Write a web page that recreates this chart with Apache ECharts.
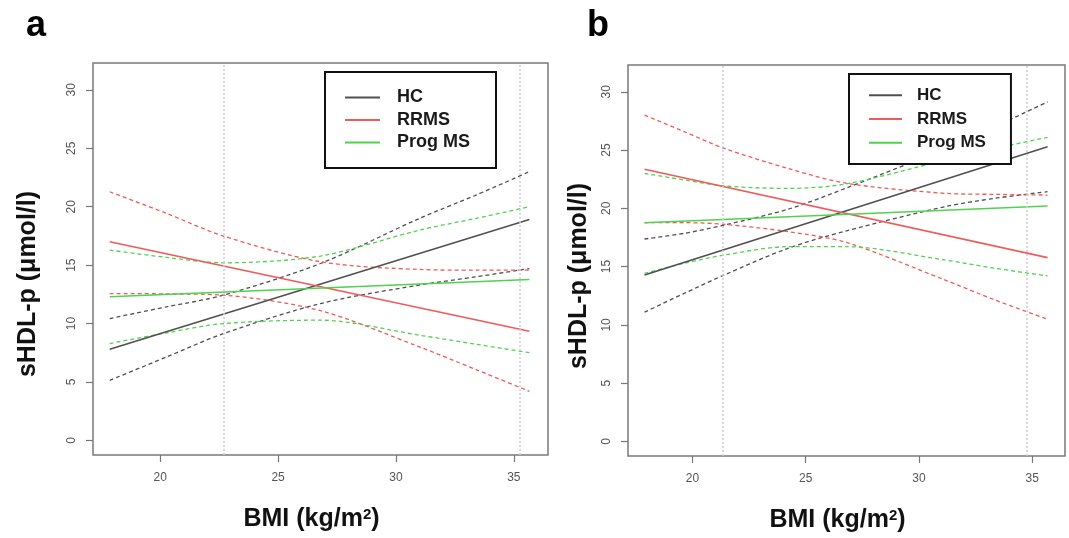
<!DOCTYPE html>
<html>
<head>
<meta charset="utf-8">
<script src="https://cdn.jsdelivr.net/npm/echarts@6/dist/echarts.min.js"></script>
<style>html,body{margin:0;padding:0;background:#fff;}#c{width:1069px;height:538px;}</style>
</head>
<body>
<div id="c"></div>
<script>
// ---------- data ----------
const xTicks = [20, 25, 30, 35];
const yTicks = [0, 5, 10, 15, 20, 25, 30];
const groups = ['HC', 'RRMS', 'Prog MS'];

// Panel a
const aFitX = [17.86, 35.66];
const aHC = [7.8, 18.9];
const aRRMS = [17.0, 9.34];
const aProg = [12.29, 13.77];
const aCiX = [17.86, 20.27, 22.68, 26.8, 31.0, 33.4, 35.66];
const aHCUp = [10.43, 11.43, 12.43, 15.14, 19.0, 21.0, 23.0];
const aHCLo = [5.14, 7.14, 9.14, 11.71, 13.3, 14.0, 14.71];
const aRRMSUp = [21.28, 19.43, 17.49, 15.29, 14.63, 14.57, 14.57];
const aRRMSLo = [12.57, 12.54, 12.43, 11.1, 8.0, 6.06, 4.2];
const aProgUp = [16.29, 15.66, 15.2, 15.78, 18.0, 19.0, 20.0];
const aProgLo = [8.29, 9.2, 10.0, 10.29, 9.0, 8.23, 7.51];
const aVLines = [22.7, 35.25];

// Panel b
const bFitX = [17.88, 35.68];
const bHC = [14.29, 25.29];
const bRRMS = [23.35, 15.77];
const bProg = [18.77, 20.2];
const bCiX = [17.88, 19.65, 21.41, 24.21, 26.8, 31.14, 33.35, 35.68];
const bHCUp = [17.37, 17.86, 18.57, 19.92, 21.75, 25.1, 27.0, 29.14];
const bHCLo = [11.09, 12.72, 14.29, 16.57, 18.07, 20.14, 20.86, 21.43];
const bRRMSUp = [28.0, 26.57, 25.14, 23.43, 22.15, 21.29, 21.2, 21.14];
const bRRMSLo = [18.77, 18.77, 18.63, 18.0, 17.07, 13.86, 12.14, 10.49];
const bProgUp = [23.0, 22.43, 21.92, 21.71, 22.1, 24.14, 25.14, 26.09];
const bProgLo = [14.43, 15.29, 16.0, 16.71, 16.71, 15.57, 14.86, 14.2];
const bVLines = [21.35, 34.78];

// ---------- styles ----------
const COL = {'HC': '#505050', 'RRMS': '#ef5a5a', 'Prog MS': '#4fd34f'};
const FONT = 'Liberation Sans, Arial, Helvetica, sans-serif';

function pairs(xs, ys) { return xs.map((x, i) => [x, ys[i]]); }
function solid(name, xs, ys, gi) {
  return {type: 'line', name: name, xAxisIndex: gi, yAxisIndex: gi, data: pairs(xs, ys),
    symbol: 'none', showSymbol: false, silent: true,
    lineStyle: {color: COL[name], width: 1.6}, itemStyle: {color: COL[name]}, z: 3};
}
function dashed(grp, tag, xs, ys, gi) {
  return {type: 'line', name: grp + ' ' + tag + ' ' + gi, xAxisIndex: gi, yAxisIndex: gi, data: pairs(xs, ys),
    symbol: 'none', showSymbol: false, silent: true, smooth: 0.3,
    lineStyle: {color: COL[grp], width: 1.3, type: [4, 3]}, itemStyle: {color: COL[grp]}, z: 2};
}
function vlineSeries(vals, gi) {
  return {type: 'line', name: 'vl' + gi, xAxisIndex: gi, yAxisIndex: gi, data: [], silent: true,
    markLine: {symbol: 'none', silent: true, label: {show: false},
      lineStyle: {color: '#cdcdd6', type: [2, 2], width: 1.5},
      data: vals.map(v => ({xAxis: v}))}};
}

const grids = [
  {left: 93, top: 63, width: 455, height: 392},
  {left: 628, top: 65, width: 437, height: 391}
];
const yNamePad = [[0, 50, 0, 0], [0, 31, 0, 0]];
const yNameGap = [52, 36];

const xAxes = grids.map((g, i) => ({
  type: 'value', gridIndex: i, min: 17.15, max: 36.45,
  axisLine: {show: false, onZero: false}, splitLine: {show: false},
  axisTick: {show: true, inside: false, length: 7, lineStyle: {color: '#777', width: 1.2}, customValues: xTicks},
  axisLabel: {customValues: xTicks, color: '#555', fontSize: 12, fontFamily: FONT, margin: 17},
  name: 'BMI (kg/m{sup|2})', nameLocation: 'middle', nameGap: 52,
  nameTextStyle: {fontSize: 25, fontWeight: 'bold', color: '#111', fontFamily: FONT, padding: [0, 18, 0, 0],
    rich: {sup: {fontSize: 15, fontWeight: 'bold', color: '#111', fontFamily: FONT, verticalAlign: 'top', padding: [0, 0, 10, 0]}}}
}));
const yAxes = grids.map((g, i) => ({
  type: 'value', gridIndex: i, min: -1.25, max: 32.3,
  axisLine: {show: false, onZero: false}, splitLine: {show: false},
  axisTick: {show: true, inside: false, length: 7, lineStyle: {color: '#777', width: 1.2}, customValues: yTicks},
  axisLabel: {customValues: yTicks, color: '#555', fontSize: 12, fontFamily: FONT, margin: 15, rotate: 90},
  name: 'sHDL-p (μmol/l)', nameLocation: 'middle', nameGap: yNameGap[i],
  nameTextStyle: {fontSize: 25, fontWeight: 'bold', color: '#111', fontFamily: FONT, padding: yNamePad[i]}
}));

const series = [
  vlineSeries(aVLines, 0),
  dashed('HC', 'up', aCiX, aHCUp, 0), dashed('HC', 'lo', aCiX, aHCLo, 0),
  dashed('RRMS', 'up', aCiX, aRRMSUp, 0), dashed('RRMS', 'lo', aCiX, aRRMSLo, 0),
  dashed('Prog MS', 'up', aCiX, aProgUp, 0), dashed('Prog MS', 'lo', aCiX, aProgLo, 0),
  solid('HC', aFitX, aHC, 0), solid('RRMS', aFitX, aRRMS, 0), solid('Prog MS', aFitX, aProg, 0),
  vlineSeries(bVLines, 1),
  dashed('HC', 'up', bCiX, bHCUp, 1), dashed('HC', 'lo', bCiX, bHCLo, 1),
  dashed('RRMS', 'up', bCiX, bRRMSUp, 1), dashed('RRMS', 'lo', bCiX, bRRMSLo, 1),
  dashed('Prog MS', 'up', bCiX, bProgUp, 1), dashed('Prog MS', 'lo', bCiX, bProgLo, 1),
  solid('HC', bFitX, bHC, 1), solid('RRMS', bFitX, bRRMS, 1), solid('Prog MS', bFitX, bProg, 1)
];

function legend(left, top, pad, gap, fs, txtPad, iw) {
  return {data: groups, orient: 'vertical', left: left, top: top, padding: pad, itemGap: gap,
    icon: 'path://M0,0H' + iw + 'V2H0Z', symbolKeepAspect: true,
    itemWidth: iw, itemHeight: 14, selectedMode: false, backgroundColor: '#fff',
    borderColor: '#111', borderWidth: 2, borderRadius: 0,
    formatter: '{t|{name}}',
    textStyle: {rich: {t: {fontSize: fs, fontWeight: 'bold', color: '#1a1a1a', fontFamily: FONT, padding: [0, 0, 0, txtPad]}}}};
}

const chart = echarts.init(document.getElementById('c'), null, {renderer: 'canvas'});
chart.setOption({
  animation: false,
  backgroundColor: '#fff',
  grid: grids.map(g => Object.assign({show: true, borderColor: '#7a7a7a', borderWidth: 1.5, backgroundColor: 'transparent'}, g)),
  xAxis: xAxes,
  yAxis: yAxes,
  legend: [
    legend(325, 72, [16.5, 26, 16.5, 20], 4.5, 18, 12, 35),
    legend(849, 74, [12.75, 25, 12.75, 20], 6.75, 17, 10, 33)
  ],
  graphic: [
    {type: 'text', left: 26, top: 8, style: {text: 'a', fontSize: 36, fontWeight: 'bold', fill: '#000', fontFamily: FONT}},
    {type: 'text', left: 587, top: 8, style: {text: 'b', fontSize: 36, fontWeight: 'bold', fill: '#000', fontFamily: FONT}}
  ],
  series: series
});
</script>
</body>
</html>
